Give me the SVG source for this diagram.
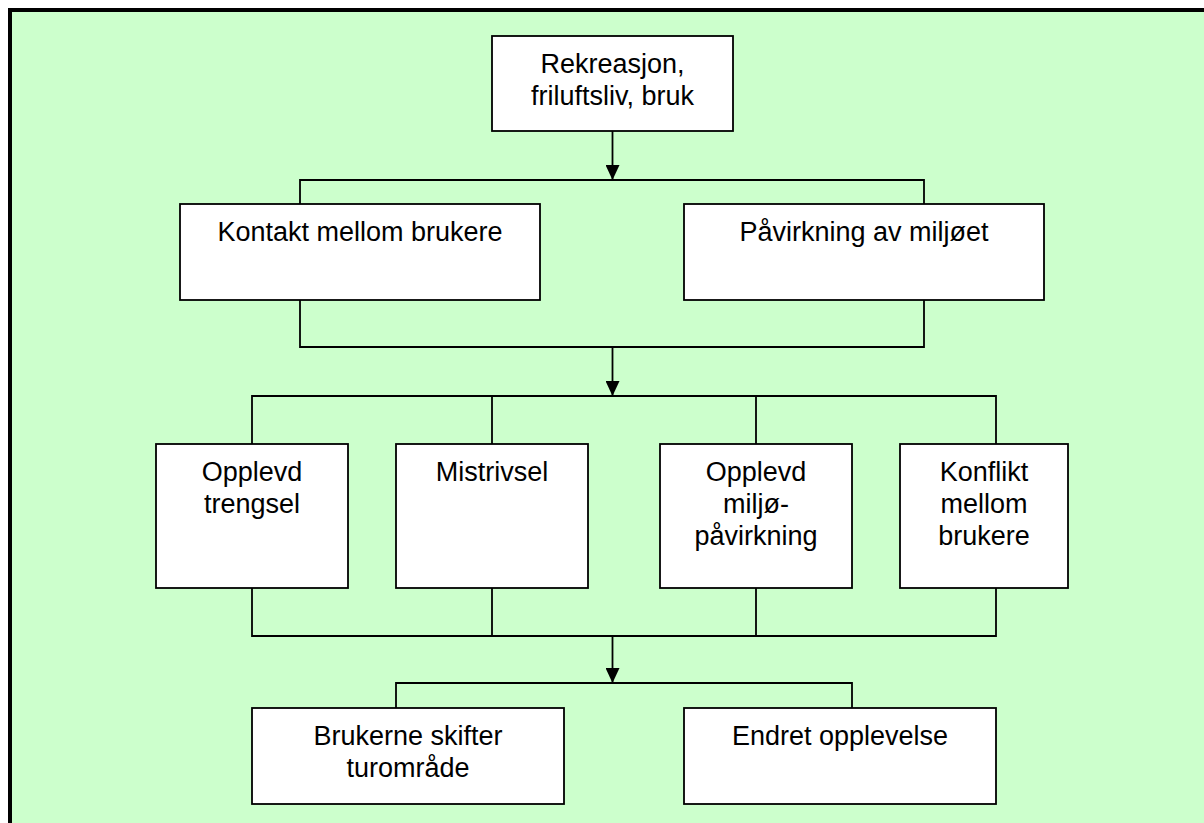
<svg xmlns="http://www.w3.org/2000/svg" width="1204" height="823" viewBox="0 0 1204 823">
<style>
.box{fill:#ffffff;stroke:#000000;stroke-width:1.8}
.ln{fill:none;stroke:#000000;stroke-width:1.8}
text{font-family:"Liberation Sans",Arial,sans-serif;font-size:27px;fill:#000000;text-anchor:middle}
</style>
<defs>
<marker id="ah" markerUnits="userSpaceOnUse" markerWidth="15" markerHeight="14" refX="15" refY="7" orient="auto" viewBox="0 0 15 14">
<path d="M0,0 L15,7 L0,14 Z" fill="#000000"/>
</marker>
</defs>
<rect x="10" y="10" width="1204" height="823" fill="#CCFFCC" stroke="#000000" stroke-width="4"/>
<g id="connectors">
<path class="ln" d="M612.5,131 V180" marker-end="url(#ah)"/>
<path class="ln" d="M300,204 V180 H924 V204"/>
<path class="ln" d="M300,300 V347 H924 V300"/>
<path class="ln" d="M612.5,347 V396" marker-end="url(#ah)"/>
<path class="ln" d="M252,444 V396 H996 V444 M492,396 V444 M756,396 V444"/>
<path class="ln" d="M252,588 V636 H996 V588 M492,588 V636 M756,588 V636"/>
<path class="ln" d="M612.5,636 V683" marker-end="url(#ah)"/>
<path class="ln" d="M396,708 V683 H852 V708"/>
</g>
<g id="n-rekreasjon">
<rect class="box" x="492" y="36" width="241" height="95"/>
<text x="612.5" y="73">Rekreasjon,</text>
<text x="612.5" y="105">friluftsliv, bruk</text>
</g>
<g id="n-kontakt">
<rect class="box" x="180" y="204" width="360" height="96"/>
<text x="360" y="241">Kontakt mellom brukere</text>
</g>
<g id="n-pavirkning">
<rect class="box" x="684" y="204" width="360" height="96"/>
<text x="864" y="241">Påvirkning av miljøet</text>
</g>
<g id="n-trengsel">
<rect class="box" x="156" y="444" width="192" height="144"/>
<text x="252" y="481">Opplevd</text>
<text x="252" y="513">trengsel</text>
</g>
<g id="n-mistrivsel">
<rect class="box" x="396" y="444" width="192" height="144"/>
<text x="492" y="481">Mistrivsel</text>
</g>
<g id="n-miljo">
<rect class="box" x="660" y="444" width="192" height="144"/>
<text x="756" y="481">Opplevd</text>
<text x="756" y="513">miljø-</text>
<text x="756" y="545">påvirkning</text>
</g>
<g id="n-konflikt">
<rect class="box" x="900" y="444" width="168" height="144"/>
<text x="984" y="481">Konflikt</text>
<text x="984" y="513">mellom</text>
<text x="984" y="545">brukere</text>
</g>
<g id="n-skifter">
<rect class="box" x="252" y="708" width="312" height="96"/>
<text x="408" y="745">Brukerne skifter</text>
<text x="408" y="777">turområde</text>
</g>
<g id="n-endret">
<rect class="box" x="684" y="708" width="312" height="96"/>
<text x="840" y="745">Endret opplevelse</text>
</g>
</svg>
